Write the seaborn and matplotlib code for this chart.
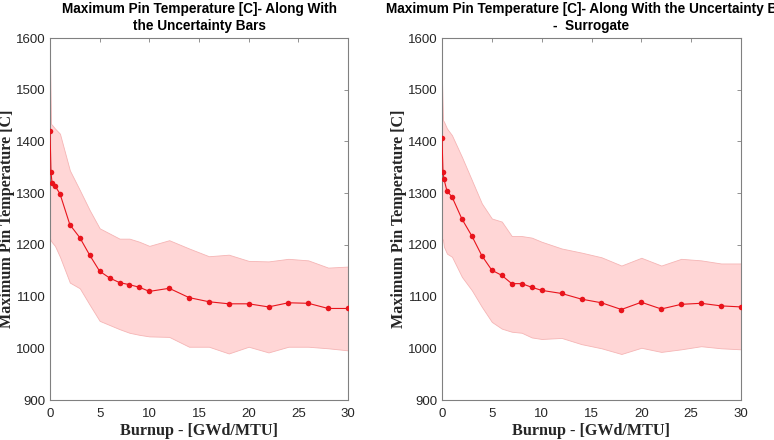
import numpy as np
import pandas as pd
import matplotlib
matplotlib.use("Agg")
import matplotlib.pyplot as plt
import seaborn as sns

burnup = [0, 0.1, 0.2, 0.5, 1, 2, 3, 4, 5, 6, 7, 8, 9, 10, 12, 14, 16, 18, 20, 22, 24, 26, 28, 30]

# Left panel: reference model
mean_left = [1421, 1341, 1320, 1314, 1299, 1239, 1214, 1180, 1149, 1136, 1127, 1123, 1118, 1110,
             1116, 1098, 1090, 1086, 1086, 1080, 1088, 1087, 1077, 1077]
upper_left = [1560, 1434, 1432, 1425, 1415, 1344, 1306, 1267, 1232, 1222, 1212, 1212, 1206, 1198,
              1209, 1193, 1178, 1181, 1169, 1168, 1173, 1170, 1156, 1158]
lower_left = [1212, 1208, 1205, 1198, 1177, 1127, 1116, 1084, 1053, 1045, 1037, 1030, 1026, 1023,
              1022, 1003, 1003, 990, 1003, 992, 1003, 1003, 1000, 996]

# Right panel: surrogate
mean_right = [1407, 1340, 1327, 1304, 1293, 1250, 1217, 1179, 1151, 1141, 1125, 1125, 1118, 1112,
              1106, 1095, 1088, 1075, 1089, 1076, 1085, 1087, 1082, 1080]
upper_right = [1518, 1441, 1438, 1425, 1412, 1370, 1325, 1280, 1251, 1245, 1217, 1217, 1214, 1206,
               1193, 1185, 1176, 1160, 1175, 1160, 1173, 1170, 1164, 1164]
lower_right = [1212, 1210, 1196, 1183, 1177, 1138, 1112, 1080, 1051, 1038, 1032, 1030, 1021, 1018,
               1020, 1008, 1000, 989, 1001, 993, 998, 1004, 1000, 998]

titles = ["Maximum Pin Temperature [C]- Along With\nthe Uncertainty Bars",
          "Maximum Pin Temperature [C]- Along With the Uncertainty Bars\n-  Surrogate"]
xlabel = "Burnup - [GWd/MTU]"
ylabel = "Maximum Pin Temperature [C]"

sns.set_style("white")
plt.rcParams['font.family'] = ['Liberation Sans', 'DejaVu Sans']

fig = plt.figure(figsize=(7.74, 4.40), dpi=100)
ax1 = fig.add_axes([50/774, 1-400/440, (348-50)/774, (400-38)/440])
ax2 = fig.add_axes([442/774, 1-400/440, (741-442)/774, (400-38)/440])

panels = [(ax1, mean_left, upper_left, lower_left, titles[0]),
          (ax2, mean_right, upper_right, lower_right, titles[1])]

for ax, mean, up, lo, title in panels:
    df = pd.DataFrame({"burnup": burnup, "temp": mean})
    ax.fill_between(burnup, lo, up, facecolor="#ffd6d6", edgecolor="#f5b5b5", linewidth=0.6, zorder=1)
    sns.lineplot(data=df, x="burnup", y="temp", ax=ax, color="#e8141c", linewidth=0.8,
                 marker="o", markersize=4, markeredgewidth=0, zorder=3)
    ax.set_xlim(0, 30)
    ax.set_ylim(900, 1600)
    ax.set_xticks([0, 5, 10, 15, 20, 25, 30])
    ax.set_yticks([900, 1000, 1100, 1200, 1300, 1400, 1500, 1600])
    ax.tick_params(direction="in", length=3, width=0.6, colors="#808080", labelcolor="#262626",
                   labelsize=9.5, top=True, right=True)
    ax.tick_params(axis="x", pad=6)
    ax.tick_params(axis="y", pad=3)
    for s in ax.spines.values():
        s.set_visible(True)
        s.set_color("#808080")
        s.set_linewidth(0.8)
    ax.set_title(title, fontsize=9.8, fontweight="bold", color="black", pad=6, linespacing=1.2)
    ax.set_xlabel(xlabel, family=["Liberation Serif"], fontweight="bold", fontsize=11.6, labelpad=2)
    ax.set_ylabel(ylabel, family=["Liberation Serif"], fontweight="bold", fontsize=11.6, labelpad=1)

fig.savefig("out.png", dpi=100)
